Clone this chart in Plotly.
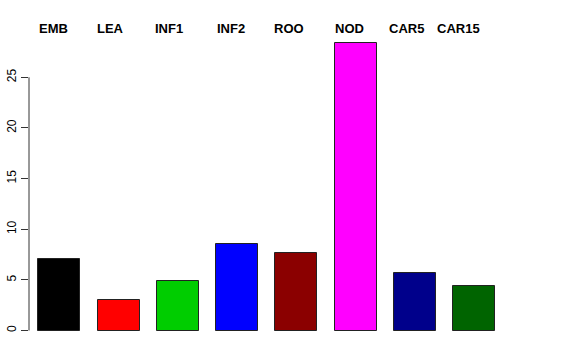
import plotly.graph_objects as go

categories = ["EMB", "LEA", "INF1", "INF2", "ROO", "NOD", "CAR5", "CAR15"]
values = [7.06, 3.05, 4.90, 8.54, 7.65, 28.34, 5.68, 4.36]
colors = ["#000000", "#FF0000", "#00CD00", "#0000FF", "#8B0000", "#FF00FF", "#00008B", "#006400"]
tick_vals = [0, 5, 10, 15, 20, 25]

# label left-edge positions (in bar-index units)
label_x = [-0.371, 0.607, 1.585, 2.631, 3.592, 4.621, 5.531, 6.341]

xs = list(range(len(categories)))
fig = go.Figure()
fig.add_trace(go.Bar(
    x=xs, y=values, width=0.708,
    marker=dict(color=colors, line=dict(color="#222222", width=1)),
    hoverinfo="skip", showlegend=False,
))

ymax = max(values)
pad = 0.04 * ymax
fig.update_layout(
    width=576, height=360,
    margin=dict(l=29, r=72, t=32, b=17.5, pad=0, autoexpand=False),
    plot_bgcolor="white", paper_bgcolor="white",
    font=dict(family="Liberation Sans, Arial, Helvetica", size=12, color="black"),
    xaxis=dict(range=[-0.511, 7.5], visible=False, showgrid=False, zeroline=False,
               automargin=False),
    yaxis=dict(range=[-pad, ymax + pad], tickvals=tick_vals,
               ticktext=[str(v) for v in tick_vals],
               ticks="outside", ticklen=7, tickcolor="#333333", tickwidth=1,
               tickangle=-90, showgrid=False, zeroline=False, showline=False,
               automargin=False,
               tickfont=dict(size=12, color="black")),
    bargap=0,
)
fig.add_shape(type="line", xref="paper", yref="y", x0=0, x1=0,
              y0=tick_vals[0], y1=tick_vals[-1],
              line=dict(color="#333333", width=1))

for name, lx in zip(categories, label_x):
    fig.add_annotation(x=lx, y=1.0097, xref="x", yref="paper", text="<b>%s</b>" % name,
                       showarrow=False, xanchor="left", yanchor="middle",
                       font=dict(size=13, color="black"))

fig.write_html("out.html")
